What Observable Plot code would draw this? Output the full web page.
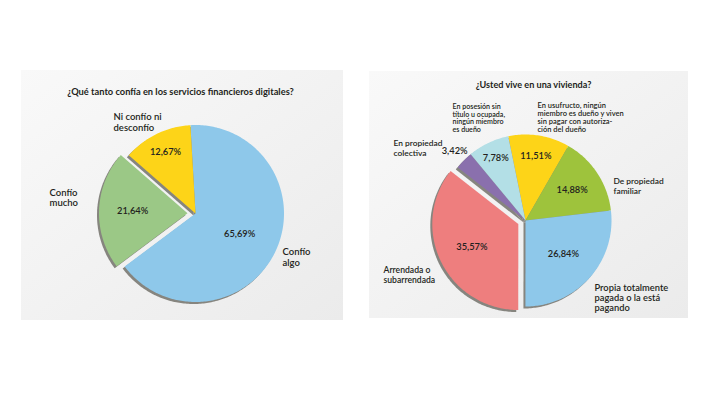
<!DOCTYPE html>
<html>
<head>
<meta charset="utf-8">
<script src="https://cdn.jsdelivr.net/npm/d3@7"></script>
<script src="https://cdn.jsdelivr.net/npm/@observablehq/plot@0.6"></script>
<style>
  html, body { margin: 0; padding: 0; background: #ffffff; }
  #chart svg { display: block; }
</style>
</head>
<body>
<div id="chart"></div>
<script>
// ---------- DATA ----------
const leftTitle = "¿Qué tanto confía en los servicios financieros digitales?";
const leftCategories = ["Confío algo", "Confío mucho", "Ni confío ni desconfío"];
const leftValues = [65.69, 21.64, 12.67];
const leftLabels = ["Confío\nalgo", "Confío\nmucho", "Ni confío ni\ndesconfío"];

const rightTitle = "¿Usted vive en una vivienda?";
const rightCategories = [
  "En usufructo, ningún miembro es dueño y viven sin pagar con autorización del dueño",
  "De propiedad familiar",
  "Propia totalmente pagada o la está pagando",
  "Arrendada o subarrendada",
  "En propiedad colectiva",
  "En posesión sin título u ocupada, ningún miembro es dueño"
];
const rightValues = [11.51, 14.88, 26.84, 35.57, 3.42, 7.78];
const rightLabels = [
  "En usufructo, ningún\nmiembro es dueño y viven\nsin pagar con autoriza-\nción del dueño",
  "De propiedad\nfamiliar",
  "Propia totalmente\npagada o la está\npagando",
  "Arrendada o\nsubarrendada",
  "En propiedad\ncolectiva",
  "En posesión sin\ntítulo u ocupada,\nningún miembro\nes dueño"
];

// ---------- STYLE / LAYOUT ----------
const leftColors = ["#8ec8ea", "#9bc886", "#fdd418"];
const rightColors = ["#fdd418", "#9ec33c", "#8ec8ea", "#ee7e7e", "#8a70ad", "#b3dfe6"];

const leftCfg = {cx: 195, cy: 213, r: 88.5, start: -3.3, explode: [0, 8, 0], pctR: [0.55, 0.62, 0.77]};
const rightCfg = {cx: 525, cy: 220, r: 86, start: -11.6, explode: [0, 0, 0, 8, 0, 0], pctR: [0.76, 0.65, 0.59, 0.6, 1.15, 0.8]};

// label layout: [x, y (block centre), fontSize, line spacing px]
const leftLabelPos = [[282, 256.5, 9.5, 10.5], [49, 197, 9.5, 10.5], [113, 121.5, 9.5, 10.5]];
const rightLabelPos = [[537, 117, 7.5, 8.1], [613, 185, 8.4, 10], [594, 297.5, 9.3, 9.8], [383, 274.5, 8.6, 9.4], [393, 147.5, 8.4, 9.4], [452, 117.5, 7.1, 7.7]];

const panels = [
  {x1: 21, x2: 343, y1: 70, y2: 320},
  {x1: 369, x2: 688, y1: 71, y2: 318}
];

const rad = Math.PI / 180;
function buildPie(cats, vals, cfg, panel) {
  const total = d3.sum(vals);
  let a = cfg.start;
  const pts = [], pct = [];
  cats.forEach((c, i) => {
    const sweep = vals[i] / total * 360;
    const a0 = a, a1 = a + sweep;
    a = a1;
    const mid = (a0 + a1) / 2 * rad;
    const off = cfg.explode[i] || 0;
    const ox = cfg.cx + off * Math.sin(mid), oy = cfg.cy - off * Math.cos(mid);
    const key = panel + "-" + i;
    pts.push({key, category: c, x: ox, y: oy});
    const n = Math.max(2, Math.ceil(sweep));
    for (let k = 0; k <= n; k++) {
      const t = (a0 + (a1 - a0) * k / n) * rad;
      pts.push({key, category: c, x: ox + cfg.r * Math.sin(t), y: oy - cfg.r * Math.cos(t)});
    }
    pts.push({key, category: c, x: ox, y: oy});
    const pr = cfg.r * cfg.pctR[i];
    pct.push({x: ox + pr * Math.sin(mid), y: oy - pr * Math.cos(mid),
      text: vals[i].toFixed(2).replace(".", ",") + "%"});
  });
  return {pts, pct};
}

const L = buildPie(leftCategories, leftValues, leftCfg, "L");
const R = buildPie(rightCategories, rightValues, rightCfg, "R");
const allPts = L.pts.concat(R.pts);
const allPct = L.pct.concat(R.pct);

const labels = leftLabels.map((t, i) => ({text: t, x: leftLabelPos[i][0], y: leftLabelPos[i][1], fs: leftLabelPos[i][2], lh: leftLabelPos[i][3]}))
  .concat(rightLabels.map((t, i) => ({text: t, x: rightLabelPos[i][0], y: rightLabelPos[i][1], fs: rightLabelPos[i][2], lh: rightLabelPos[i][3]})));

const titles = [
  {text: leftTitle, x: 180, y: 92, fs: 9.3},
  {text: rightTitle, x: 533, y: 85, fs: 9.1}
];

const font = "Lato, 'Noto Sans', sans-serif";
const textColor = "#231f20";

const labelMarks = labels.map(l => Plot.text([l], {
  x: "x", y: "y", text: "text", textAnchor: "start", lineAnchor: "middle",
  fontSize: l.fs, lineHeight: l.lh / l.fs, fontWeight: 600, fill: textColor, fontFamily: font
}));
const titleMarks = titles.map(t => Plot.text([t], {
  x: "x", y: "y", text: "text", fontSize: t.fs, fontWeight: 700, fill: textColor, fontFamily: font
}));

const svg = Plot.plot({
  width: 720, height: 405,
  margin: 0,
  x: {type: "identity", axis: null},
  y: {type: "identity", axis: null},
  color: {domain: leftCategories.concat(rightCategories), range: leftColors.concat(rightColors)},
  style: {background: "#ffffff", fontFamily: font},
  marks: [
    Plot.rect(panels, {x1: "x1", x2: "x2", y1: "y1", y2: "y2", fill: "url(#panelGrad)"}),
    Plot.line(allPts, {x: d => d.x - 2, y: d => d.y + 2, z: "key", fill: "#86857f", stroke: null, curve: "linear"}),
    Plot.line(allPts, {x: "x", y: "y", z: "key", fill: "category", stroke: null, curve: "linear"}),
    Plot.text(allPct, {x: "x", y: "y", text: "text", fontSize: 9.3, fontWeight: 600, fill: textColor, fontFamily: font}),
    ...titleMarks,
    ...labelMarks
  ]
});

const defs = d3.select(svg).insert("defs", ":first-child");
const g = defs.append("linearGradient").attr("id", "panelGrad")
  .attr("x1", "0").attr("y1", "0").attr("x2", "1").attr("y2", "1");
g.append("stop").attr("offset", "0").attr("stop-color", "#f9f9f9");
g.append("stop").attr("offset", "1").attr("stop-color", "#ebebeb");

document.getElementById("chart").appendChild(svg);
</script>
</body>
</html>
